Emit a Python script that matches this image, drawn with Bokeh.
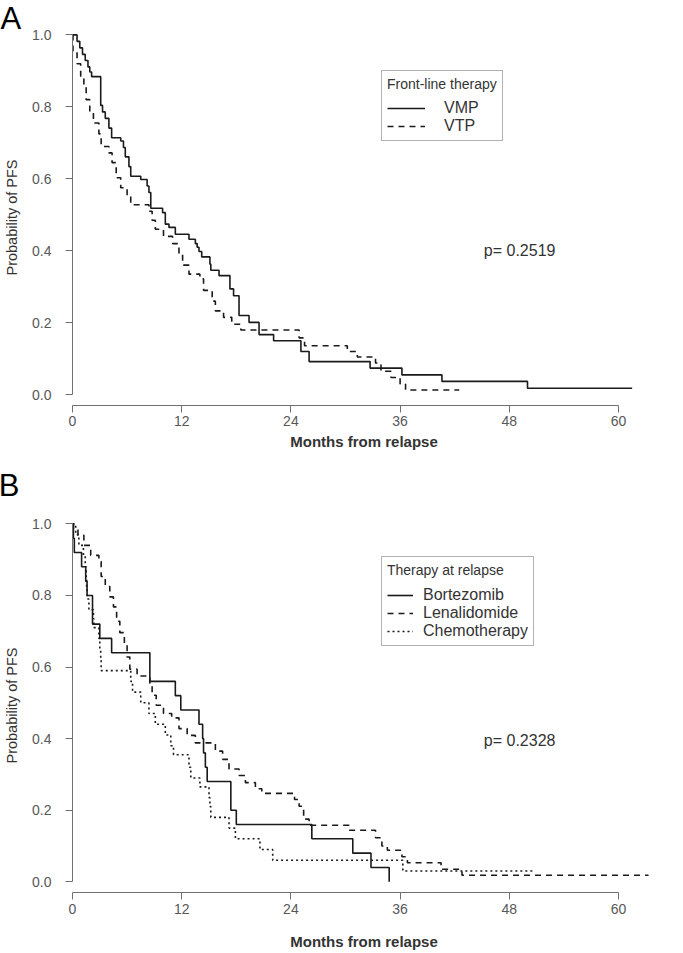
from bokeh.plotting import figure
from bokeh.models import (Range1d, FixedTicker, NumeralTickFormatter, Legend, LegendItem, Label)
from bokeh.layouts import column
from bokeh.embed import file_html
from bokeh.resources import INLINE

# ---------------- data ----------------
x_ticks = [0, 12, 24, 36, 48, 60]
y_ticks = [0.0, 0.2, 0.4, 0.6, 0.8, 1.0]

# Panel A: front-line therapy
vmp_t = [0.5, 0.8, 1.1, 1.4, 1.7, 1.9, 2.1, 3.1, 3.3, 3.6, 4.0, 4.3, 5.3, 5.6, 5.8,
         6.2, 6.4, 7.5, 8.2, 8.4, 8.6, 9.9, 10.2, 10.6, 11.3, 12.8, 13.5, 13.7, 13.9,
         14.2, 15.1, 15.2, 16.1, 17.3, 17.7, 18.3, 19.4, 20.5, 22.1, 25.1, 26.0, 32.7,
         36.2, 40.6, 50.0]
vmp_s = [0.982, 0.964, 0.946, 0.929, 0.911, 0.897, 0.884, 0.804, 0.786, 0.768, 0.741,
         0.714, 0.705, 0.687, 0.661, 0.634, 0.607, 0.598, 0.580, 0.562, 0.518, 0.506,
         0.474, 0.465, 0.446, 0.432, 0.420, 0.410, 0.398, 0.383, 0.363, 0.346, 0.331,
         0.294, 0.275, 0.220, 0.201, 0.167, 0.150, 0.120, 0.092, 0.074, 0.055, 0.037,
         0.018]
vmp_end = 61.5

vtp_t = [0.05, 0.5, 0.9, 1.25, 1.5, 1.9, 2.3, 2.9, 3.15, 4.0, 4.35, 4.8, 5.3, 6.0, 6.4,
         8.4, 8.75, 9.1, 10.0, 11.0, 11.7, 12.1, 12.8, 14.0, 14.4, 15.35, 15.7, 16.6,
         17.5, 18.5, 24.9, 25.5, 30.2, 31.3, 33.3, 33.9, 35.0, 36.0, 36.6]
vtp_s = [0.955, 0.92, 0.885, 0.855, 0.82, 0.785, 0.755, 0.725, 0.69, 0.672, 0.645, 0.603,
         0.575, 0.55, 0.528, 0.51, 0.485, 0.46, 0.44, 0.42, 0.39, 0.36, 0.335, 0.322,
         0.29, 0.26, 0.233, 0.215, 0.196, 0.18, 0.158, 0.136, 0.12, 0.105, 0.088, 0.065,
         0.048, 0.03, 0.013]
vtp_end = 42.5

# Panel B: therapy at relapse
bor_t = [0.1, 0.2, 1.0, 1.45, 1.6, 2.2, 3.0, 4.3, 8.5, 11.3, 11.9, 13.9, 14.3, 14.4,
         14.6, 14.8, 17.4, 18.0, 26.3, 30.8, 32.8, 34.8]
bor_s = [0.96, 0.92, 0.88, 0.84, 0.80, 0.72, 0.68, 0.64, 0.56, 0.52, 0.48, 0.44, 0.40,
         0.36, 0.32, 0.28, 0.20, 0.16, 0.12, 0.08, 0.04, 0.0]
bor_end = 34.8

len_t = [0.1, 0.6, 1.25, 2.0, 2.9, 3.15, 3.6, 4.1, 4.5, 4.85, 5.2, 5.7, 6.0, 6.3, 7.1,
         8.5, 8.75, 9.2, 10.0, 10.9, 11.7, 12.6, 13.5, 15.7, 16.5, 17.2, 18.3, 19.0,
         20.1, 20.8, 24.4, 24.9, 25.4, 26.0, 30.4, 33.3, 34.0, 34.6, 36.2, 36.8, 40.5,
         42.8]
len_s = [0.985, 0.968, 0.94, 0.912, 0.895, 0.853, 0.825, 0.796, 0.768, 0.728, 0.696,
         0.665, 0.628, 0.594, 0.575, 0.555, 0.521, 0.493, 0.47, 0.458, 0.428, 0.409,
         0.388, 0.365, 0.342, 0.315, 0.297, 0.277, 0.26, 0.247, 0.23, 0.211, 0.175,
         0.158, 0.144, 0.123, 0.10, 0.088, 0.07, 0.053, 0.035, 0.018]
len_end = 63.3

che_t = [0.35, 0.7, 1.2, 1.4, 1.5, 1.55, 1.6, 1.8, 2.3, 2.35, 2.9, 3.0, 3.1, 3.15, 6.4,
         6.6, 7.5, 8.4, 9.1, 10.2, 10.8, 11.1, 12.8, 13.0, 14.0, 15.0, 15.1, 15.2, 17.2,
         17.9, 20.6, 22.0, 36.3]
che_s = [0.97, 0.94, 0.91, 0.88, 0.85, 0.82, 0.79, 0.76, 0.735, 0.71, 0.68, 0.65, 0.62,
         0.59, 0.56, 0.53, 0.50, 0.47, 0.44, 0.41, 0.38, 0.355, 0.32, 0.29, 0.265, 0.235,
         0.21, 0.18, 0.15, 0.12, 0.09, 0.06, 0.03]
che_end = 50.8

legend_a_title = "Front-line therapy"
legend_a_labels = ["VMP", "VTP"]
legend_b_title = "Therapy at relapse"
legend_b_labels = ["Bortezomib", "Lenalidomide", "Chemotherapy"]
p_a = "p= 0.2519"
p_b = "p= 0.2328"

# ---------------- styling ----------------
FONT = "Liberation Sans"
LINE = "#1a1a1a"
AXIS = "#707070"
TICKLBL = "#585858"
W = 683
BORDER_L = 72
BORDER_R = 28
PX_PER_MONTH = 9.1
X_MAX = (W - BORDER_L - BORDER_R) / PX_PER_MONTH


def km_xy(t, s, end):
    xs = [0.0] + list(t) + [end]
    ys = [1.0] + list(s) + [s[-1]]
    return xs, ys


def make_fig(height, top, bottom, xlabel_standoff, title_standoff):
    p = figure(width=W, height=height, output_backend="svg", toolbar_location=None,
               x_range=Range1d(0, X_MAX), y_range=Range1d(-0.03, 1.015),
               min_border_left=BORDER_L, min_border_right=BORDER_R, min_border_top=top,
               min_border_bottom=bottom)
    p.outline_line_color = None
    p.grid.visible = False
    p.background_fill_color = "white"
    p.border_fill_color = "white"
    for ax in (p.xaxis[0], p.yaxis[0]):
        ax.axis_line_color = AXIS
        ax.major_tick_line_color = AXIS
        ax.major_tick_out = 7
        ax.major_tick_in = 0
        ax.minor_tick_out = 0
        ax.minor_tick_in = 0
        ax.major_label_text_font = FONT
        ax.major_label_text_font_size = "14px"
        ax.major_label_text_color = TICKLBL
        ax.axis_label_text_font = FONT
        ax.axis_label_text_color = "#333333"
    p.xaxis.ticker = FixedTicker(ticks=x_ticks)
    p.xaxis.bounds = (0, 60)
    p.xaxis.axis_label = "Months from relapse"
    p.xaxis.axis_label_text_font_style = "bold"
    p.xaxis.axis_label_text_font_size = "15px"
    p.xaxis.major_label_standoff = xlabel_standoff
    p.xaxis.axis_label_standoff = title_standoff
    p.yaxis.ticker = FixedTicker(ticks=y_ticks)
    p.yaxis.formatter = NumeralTickFormatter(format="0.0")
    p.yaxis.bounds = (0, 1)
    p.yaxis.axis_label = "Probability of PFS"
    p.yaxis.axis_label_text_font_style = "normal"
    p.yaxis.axis_label_text_font_size = "14.5px"
    p.yaxis.major_label_standoff = 14
    p.yaxis.axis_label_standoff = 9
    return p


def style_legend(lg, pad, gw, stand, lh, tstand):
    lg.title_text_font = FONT
    lg.title_text_font_size = "14px"
    lg.title_text_font_style = "normal"
    lg.title_text_color = "#333333"
    lg.label_text_font = FONT
    lg.label_text_font_size = "16px"
    lg.label_text_color = "#333333"
    lg.border_line_color = "#666666"
    lg.border_line_width = 1
    lg.background_fill_color = "white"
    lg.background_fill_alpha = 1
    lg.padding = pad
    lg.spacing = 0
    lg.margin = 0
    lg.glyph_width = gw
    lg.glyph_height = lh
    lg.label_height = lh
    lg.label_standoff = stand
    lg.title_standoff = tstand


def panel_letter(p, letter, x, y):
    # placed in a side panel so it is not clipped to the plot frame;
    # its position is given in data units
    p.add_layout(Label(x=x, y=y, text=letter, text_font=FONT, text_font_size="31px",
                       text_color="black", text_baseline="alphabetic"), "right")


# ---------------- Panel A ----------------
pa = make_fig(466, 29, 61, 3, 4)
x, y = km_xy(vmp_t, vmp_s, vmp_end)
r_vmp = pa.step(x, y, mode="after", line_color=LINE, line_width=1.6)
x, y = km_xy(vtp_t, vtp_s, vtp_end)
r_vtp = pa.step(x, y, mode="after", line_color=LINE, line_width=1.6, line_dash="6 5")

lga = Legend(items=[LegendItem(label=legend_a_labels[0], renderers=[r_vmp]),
                    LegendItem(label=legend_a_labels[1], renderers=[r_vtp])],
             title=legend_a_title, location=(309, 264))
style_legend(lga, 5, 38, 19, 18, 7)
pa.add_layout(lga, "center")

pa.add_layout(Label(x=45.2, y=0.40, text=p_a, text_font=FONT, text_font_size="16px",
                    text_color="#333333", text_baseline="middle"))
panel_letter(pa, "A", -7.9, 1.0456)

# ---------------- Panel B ----------------
pb = make_fig(487, 52, 61, 4, 16)
x, y = km_xy(bor_t, bor_s, bor_end)
r_bor = pb.step(x, y, mode="after", line_color=LINE, line_width=1.6)
x, y = km_xy(len_t, len_s, len_end)
r_len = pb.step(x, y, mode="after", line_color=LINE, line_width=1.6, line_dash="6 5")
x, y = km_xy(che_t, che_s, che_end)
r_che = pb.step(x, y, mode="after", line_color=LINE, line_width=1.6, line_dash="2 3")

lgb = Legend(items=[LegendItem(label=legend_b_labels[0], renderers=[r_bor]),
                    LegendItem(label=legend_b_labels[1], renderers=[r_len]),
                    LegendItem(label=legend_b_labels[2], renderers=[r_che])],
             title=legend_b_title, location=(309, 246))
style_legend(lgb, 5, 26, 10, 18, 8)
pb.add_layout(lgb, "center")

pb.add_layout(Label(x=45.2, y=0.395, text=p_b, text_font=FONT, text_font_size="16px",
                    text_color="#333333", text_baseline="middle"))
panel_letter(pb, "B", -8.1, 1.107)

layout = column(pa, pb, spacing=0)
open("out.html", "w").write(file_html(layout, INLINE))
